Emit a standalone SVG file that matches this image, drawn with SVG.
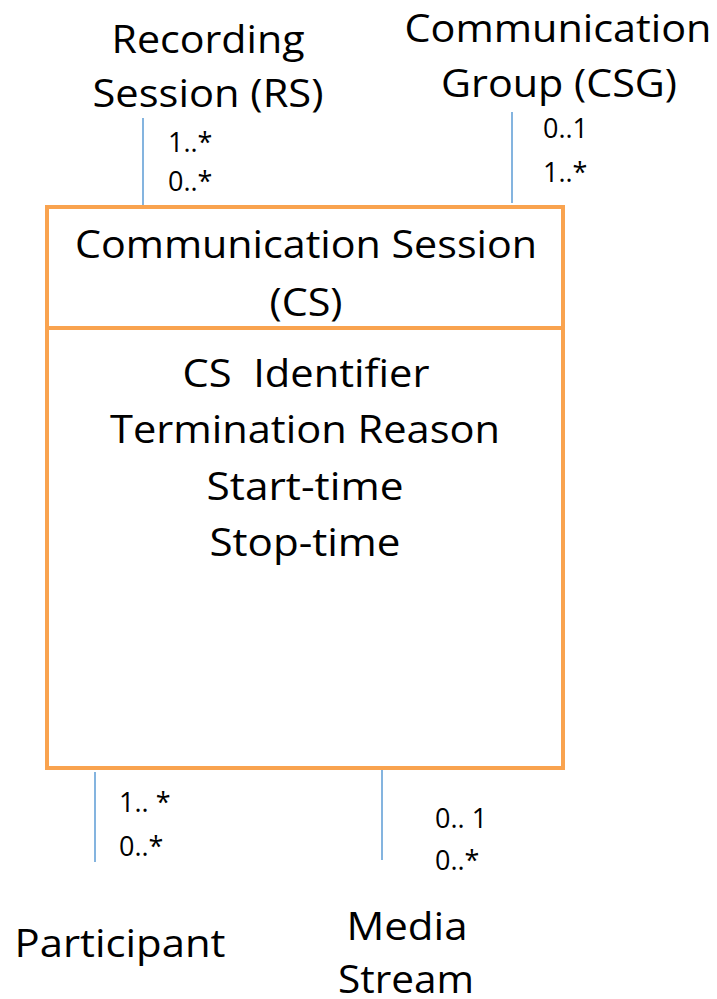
<svg xmlns="http://www.w3.org/2000/svg" width="717" height="999" viewBox="0 0 717 999">
<style>
text{font-family:"Open Sans","Noto Sans","Liberation Sans",sans-serif;fill:#000}
.big{font-size:38px;text-anchor:middle}
.m{font-size:27px}
.box{fill:#fff;stroke:#F9A34F;stroke-width:4}
.conn{stroke:#5B9BD5;stroke-width:1.5;fill:none}
</style>
<rect width="717" height="999" fill="#fff"/>
<g id="connectors">
<line class="conn" x1="143" y1="118" x2="143" y2="206"/>
<line class="conn" x1="512" y1="112" x2="512" y2="203"/>
<line class="conn" x1="95" y1="772" x2="95" y2="862"/>
<line class="conn" x1="382" y1="770" x2="382" y2="860"/>
</g>
<g id="cs">
<rect class="box" x="47" y="207" width="516" height="561"/>
<line x1="47" y1="328" x2="563" y2="328" stroke="#F9A34F" stroke-width="4"/>
<text class="big" x="306" y="258" textLength="462" lengthAdjust="spacingAndGlyphs">Communication Session</text>
<text class="big" x="306" y="316" textLength="73" lengthAdjust="spacingAndGlyphs">(CS)</text>
<text class="big" x="306" y="387" textLength="247" lengthAdjust="spacingAndGlyphs" xml:space="preserve">CS  Identifier</text>
<text class="big" x="305" y="443" textLength="390" lengthAdjust="spacingAndGlyphs">Termination Reason</text>
<text class="big" x="305" y="500" textLength="197" lengthAdjust="spacingAndGlyphs">Start-time</text>
<text class="big" x="305" y="556" textLength="191" lengthAdjust="spacingAndGlyphs">Stop-time</text>
</g>
<g id="rs">
<text class="big" x="208" y="53" textLength="193" lengthAdjust="spacingAndGlyphs">Recording</text>
<text class="big" x="208" y="107" textLength="231" lengthAdjust="spacingAndGlyphs">Session (RS)</text>
</g>
<g id="csg">
<text class="big" x="558" y="42" textLength="307" lengthAdjust="spacingAndGlyphs">Communication</text>
<text class="big" x="559" y="97" textLength="236" lengthAdjust="spacingAndGlyphs">Group (CSG)</text>
</g>
<g id="participant">
<text class="big" x="120" y="957" textLength="211" lengthAdjust="spacingAndGlyphs">Participant</text>
</g>
<g id="media">
<text class="big" x="407" y="940" textLength="121" lengthAdjust="spacingAndGlyphs">Media</text>
<text class="big" x="406" y="993" textLength="136" lengthAdjust="spacingAndGlyphs">Stream</text>
</g>
<g id="labels">
<text class="m" x="168" y="152">1..*</text>
<text class="m" x="168" y="191">0..*</text>
<text class="m" x="543" y="138">0..1</text>
<text class="m" x="543" y="182">1..*</text>
<text class="m" x="119" y="812" xml:space="preserve">1.. *</text>
<text class="m" x="119" y="856">0..*</text>
<text class="m" x="435" y="828" xml:space="preserve">0.. 1</text>
<text class="m" x="435" y="870">0..*</text>
</g>
</svg>
